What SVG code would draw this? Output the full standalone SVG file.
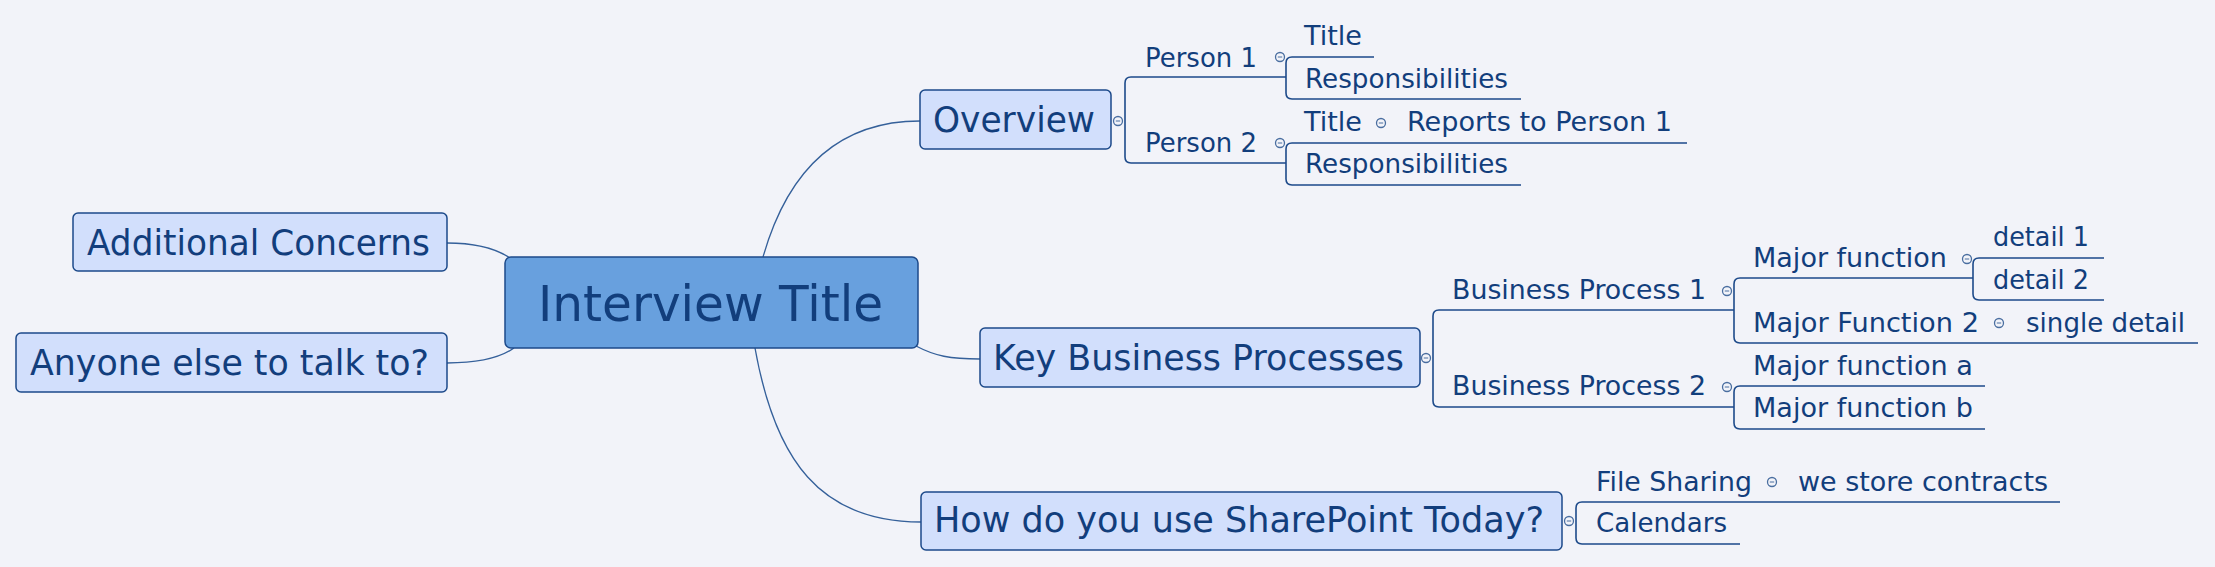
<svg xmlns="http://www.w3.org/2000/svg" width="2215" height="567" viewBox="0 0 2215 567">
<style>
text{font-family:"DejaVu Sans","Liberation Sans",sans-serif;fill:#123e7c}
.main{fill:#68a0de;stroke:#1d4a8a;stroke-width:1.5}
.topic{fill:#d2dffc;stroke:#1d4a8a;stroke-width:1.5}
.curve{fill:none;stroke:#35609a;stroke-width:1.3}
.br{fill:none;stroke:#1d4a8a;stroke-width:1.6}
.t48{font-size:49px}
.t34{font-size:35px}
.t26{font-size:27px}
</style>
<defs>
<g id="col"><circle r="4.5" fill="#f2f3f9" stroke="#4a6ea0" stroke-width="1.3"/><line x1="-2.2" y1="0" x2="2.2" y2="0" stroke="#4a6ea0" stroke-width="1"/></g>
</defs>
<rect width="2215" height="567" fill="#f2f3f9"/>
<g id="connectors">
<path class="curve" d="M447,243 C475,243 495,248 510,258"/>
<path class="curve" d="M447,363 C480,363 500,358 514,348"/>
<path class="curve" d="M763,257 C785,180 830,121 920,121"/>
<path class="curve" d="M916,346 C935,356 950,359 980,359"/>
<path class="curve" d="M755,348 C775,460 820,522 921,522"/>
<path class="br" d="M1286,77 H1131 Q1125,77 1125,83 V157 Q1125,163 1131,163 H1286"/>
<path class="br" d="M1374,57 H1292 Q1286,57 1286,63 V93 Q1286,99 1292,99 H1521"/>
<path class="br" d="M1687,143 H1292 Q1286,143 1286,149 V179 Q1286,185 1292,185 H1521"/>
<path class="br" d="M1734,310 H1439 Q1433,310 1433,316 V401 Q1433,407 1439,407 H1734"/>
<path class="br" d="M1973,278 H1740 Q1734,278 1734,284 V337 Q1734,343 1740,343 H2198"/>
<path class="br" d="M2104,258 H1979 Q1973,258 1973,264 V294 Q1973,300 1979,300 H2104"/>
<path class="br" d="M1985,386 H1740 Q1734,386 1734,392 V423 Q1734,429 1740,429 H1985"/>
<path class="br" d="M2060,502 H1582 Q1576,502 1576,508 V538 Q1576,544 1582,544 H1740"/>
<use href="#col" x="1118" y="121"/>
<use href="#col" x="1280" y="57"/>
<use href="#col" x="1280" y="143"/>
<use href="#col" x="1381" y="123"/>
<use href="#col" x="1426" y="358"/>
<use href="#col" x="1727" y="291"/>
<use href="#col" x="1967" y="259"/>
<use href="#col" x="1999" y="323"/>
<use href="#col" x="1727" y="387"/>
<use href="#col" x="1569" y="521"/>
<use href="#col" x="1772" y="482"/>
</g>
<g id="central"><rect class="main" x="505" y="257" width="413" height="91" rx="6"/><text class="t48" x="538" y="321" textLength="345" lengthAdjust="spacingAndGlyphs">Interview Title</text></g>
<g id="additional"><rect class="topic" x="73" y="213" width="374" height="58" rx="5"/><text class="t34" x="87" y="255" textLength="343" lengthAdjust="spacingAndGlyphs">Additional Concerns</text></g>
<g id="anyone"><rect class="topic" x="16" y="333" width="431" height="59" rx="5"/><text class="t34" x="30" y="375" textLength="399" lengthAdjust="spacingAndGlyphs">Anyone else to talk to?</text></g>
<g id="overview"><rect class="topic" x="920" y="90" width="191" height="59" rx="5"/><text class="t34" x="933" y="132" textLength="162" lengthAdjust="spacingAndGlyphs">Overview</text></g>
<g id="person1"><text class="t26" x="1145" y="67" textLength="112" lengthAdjust="spacingAndGlyphs">Person 1</text></g>
<g id="p1title"><text class="t26" x="1304" y="45" textLength="58" lengthAdjust="spacingAndGlyphs">Title</text></g>
<g id="p1resp"><text class="t26" x="1305" y="88" textLength="203" lengthAdjust="spacingAndGlyphs">Responsibilities</text></g>
<g id="person2"><text class="t26" x="1145" y="152" textLength="112" lengthAdjust="spacingAndGlyphs">Person 2</text></g>
<g id="p2title"><text class="t26" x="1304" y="131" textLength="58" lengthAdjust="spacingAndGlyphs">Title</text></g>
<g id="reports"><text class="t26" x="1407" y="131" textLength="265" lengthAdjust="spacingAndGlyphs">Reports to Person 1</text></g>
<g id="p2resp"><text class="t26" x="1305" y="173" textLength="203" lengthAdjust="spacingAndGlyphs">Responsibilities</text></g>
<g id="kbp"><rect class="topic" x="980" y="328" width="440" height="59" rx="5"/><text class="t34" x="993" y="370" textLength="411" lengthAdjust="spacingAndGlyphs">Key Business Processes</text></g>
<g id="bp1"><text class="t26" x="1452" y="299" textLength="254" lengthAdjust="spacingAndGlyphs">Business Process 1</text></g>
<g id="mf"><text class="t26" x="1753" y="267" textLength="194" lengthAdjust="spacingAndGlyphs">Major function</text></g>
<g id="d1"><text class="t26" x="1993" y="246" textLength="96" lengthAdjust="spacingAndGlyphs">detail 1</text></g>
<g id="d2"><text class="t26" x="1993" y="289" textLength="96" lengthAdjust="spacingAndGlyphs">detail 2</text></g>
<g id="mf2"><text class="t26" x="1753" y="332" textLength="226" lengthAdjust="spacingAndGlyphs">Major Function 2</text></g>
<g id="single"><text class="t26" x="2026" y="332" textLength="159" lengthAdjust="spacingAndGlyphs">single detail</text></g>
<g id="bp2"><text class="t26" x="1452" y="395" textLength="254" lengthAdjust="spacingAndGlyphs">Business Process 2</text></g>
<g id="mfa"><text class="t26" x="1753" y="375" textLength="220" lengthAdjust="spacingAndGlyphs">Major function a</text></g>
<g id="mfb"><text class="t26" x="1753" y="417" textLength="220" lengthAdjust="spacingAndGlyphs">Major function b</text></g>
<g id="sharepoint"><rect class="topic" x="921" y="492" width="641" height="58" rx="5"/><text class="t34" x="934" y="532" textLength="610" lengthAdjust="spacingAndGlyphs">How do you use SharePoint Today?</text></g>
<g id="filesharing"><text class="t26" x="1596" y="491" textLength="156" lengthAdjust="spacingAndGlyphs">File Sharing</text></g>
<g id="contracts"><text class="t26" x="1798" y="491" textLength="250" lengthAdjust="spacingAndGlyphs">we store contracts</text></g>
<g id="calendars"><text class="t26" x="1596" y="532" textLength="131" lengthAdjust="spacingAndGlyphs">Calendars</text></g>
</svg>
